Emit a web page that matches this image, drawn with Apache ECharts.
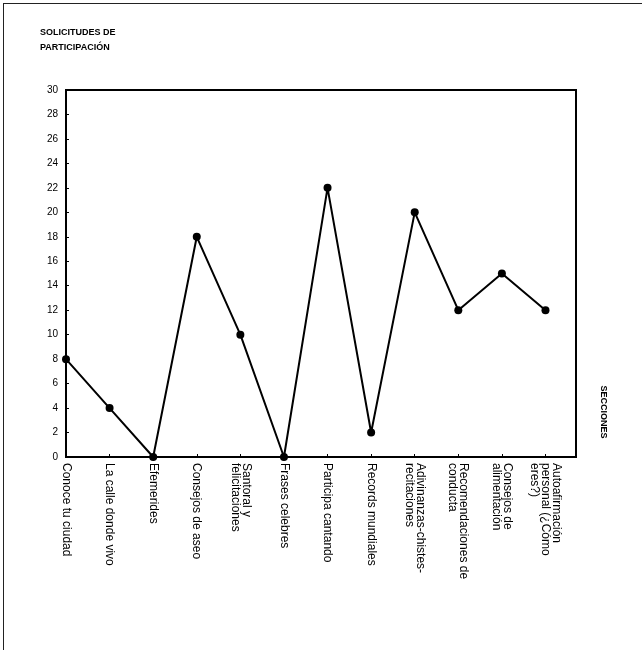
<!DOCTYPE html>
<html>
<head>
<meta charset="utf-8">
<script src="https://cdn.jsdelivr.net/npm/echarts@6/dist/echarts.min.js"></script>
<style>
html,body{margin:0;padding:0;background:#fff;}
#frame{position:absolute;left:3px;top:3px;width:639px;height:647px;border-top:1px solid #222;border-left:1px solid #222;}
#chart{position:absolute;left:0;top:0;width:642px;height:650px;}
</style>
</head>
<body>
<div id="frame"></div>
<div id="chart"></div>
<script>
const categories = [
  "Conoce tu ciudad",
  "La calle donde vivo",
  "Efemerides",
  "Consejos de aseo",
  "Santoral y\nfelicitaciones",
  "Frases celebres",
  "Participa cantando",
  "Records mundiales",
  "Adivinanzas-chistes-\nrecitaciones",
  "Recomendaciones de\nconducta",
  "Consejos de\nalimentación",
  "Autoafirmación\npersonal (¿Cómo\neres?)"
];
const solicitudes = [8, 4, 0, 18, 10, 0, 22, 2, 20, 12, 15, 12];
const yTicks = [0, 2, 4, 6, 8, 10, 12, 14, 16, 18, 20, 22, 24, 26, 28, 30];

const chart = echarts.init(document.getElementById('chart'), null, {renderer: 'canvas'});
const narrow = "'Liberation Sans Narrow', 'Liberation Sans', Arial, sans-serif";
chart.setOption({
  animation: false,
  backgroundColor: 'transparent',
  title: {
    text: 'SOLICITUDES DE\nPARTICIPACIÓN',
    left: 35, top: 20,
    textStyle: {fontFamily: narrow, fontSize: 9, fontWeight: 'bold', color: '#000', lineHeight: 15}
  },
  grid: {left: 66, top: 90, right: 66, bottom: 193, show: true, borderColor: '#000', borderWidth: 2, backgroundColor: 'transparent'},
  xAxis: {
    type: 'value',
    min: 0, max: 11.7, interval: 1,
    splitLine: {show: false},
    axisLine: {lineStyle: {color: '#000', width: 2}},
    axisTick: {show: true, inside: true, length: 3, lineStyle: {color: '#000'}},
    axisLabel: {
      rotate: -90, margin: 6, showMaxLabel: false,
      fontFamily: "'Liberation Sans', Arial, sans-serif", fontSize: 12, lineHeight: 11, color: '#000',
      formatter: v => (Number.isInteger(v) && v < categories.length) ? categories[v] : ''
    }
  },
  yAxis: {
    type: 'value',
    min: yTicks[0], max: yTicks[yTicks.length - 1], interval: 2,
    splitLine: {show: false},
    axisLine: {show: true, lineStyle: {color: '#000', width: 2}},
    axisTick: {show: true, inside: true, length: 3, lineStyle: {color: '#000'}},
    axisLabel: {margin: 8, fontFamily: narrow, fontSize: 10, color: '#000'}
  },
  series: [{
    type: 'line',
    data: solicitudes.map((v, i) => [i, v]),
    symbol: 'circle', symbolSize: 8,
    lineStyle: {color: '#000', width: 2},
    itemStyle: {color: '#000'}
  }],
  graphic: [{
    type: 'text',
    x: 603, y: 412,
    rotation: -Math.PI / 2,
    style: {text: 'SECCIONES', fontFamily: "'Liberation Sans', Arial, sans-serif", fontSize: 9, fontWeight: 'bold', fill: '#000', align: 'center', verticalAlign: 'middle'}
  }]
});
</script>
</body>
</html>
